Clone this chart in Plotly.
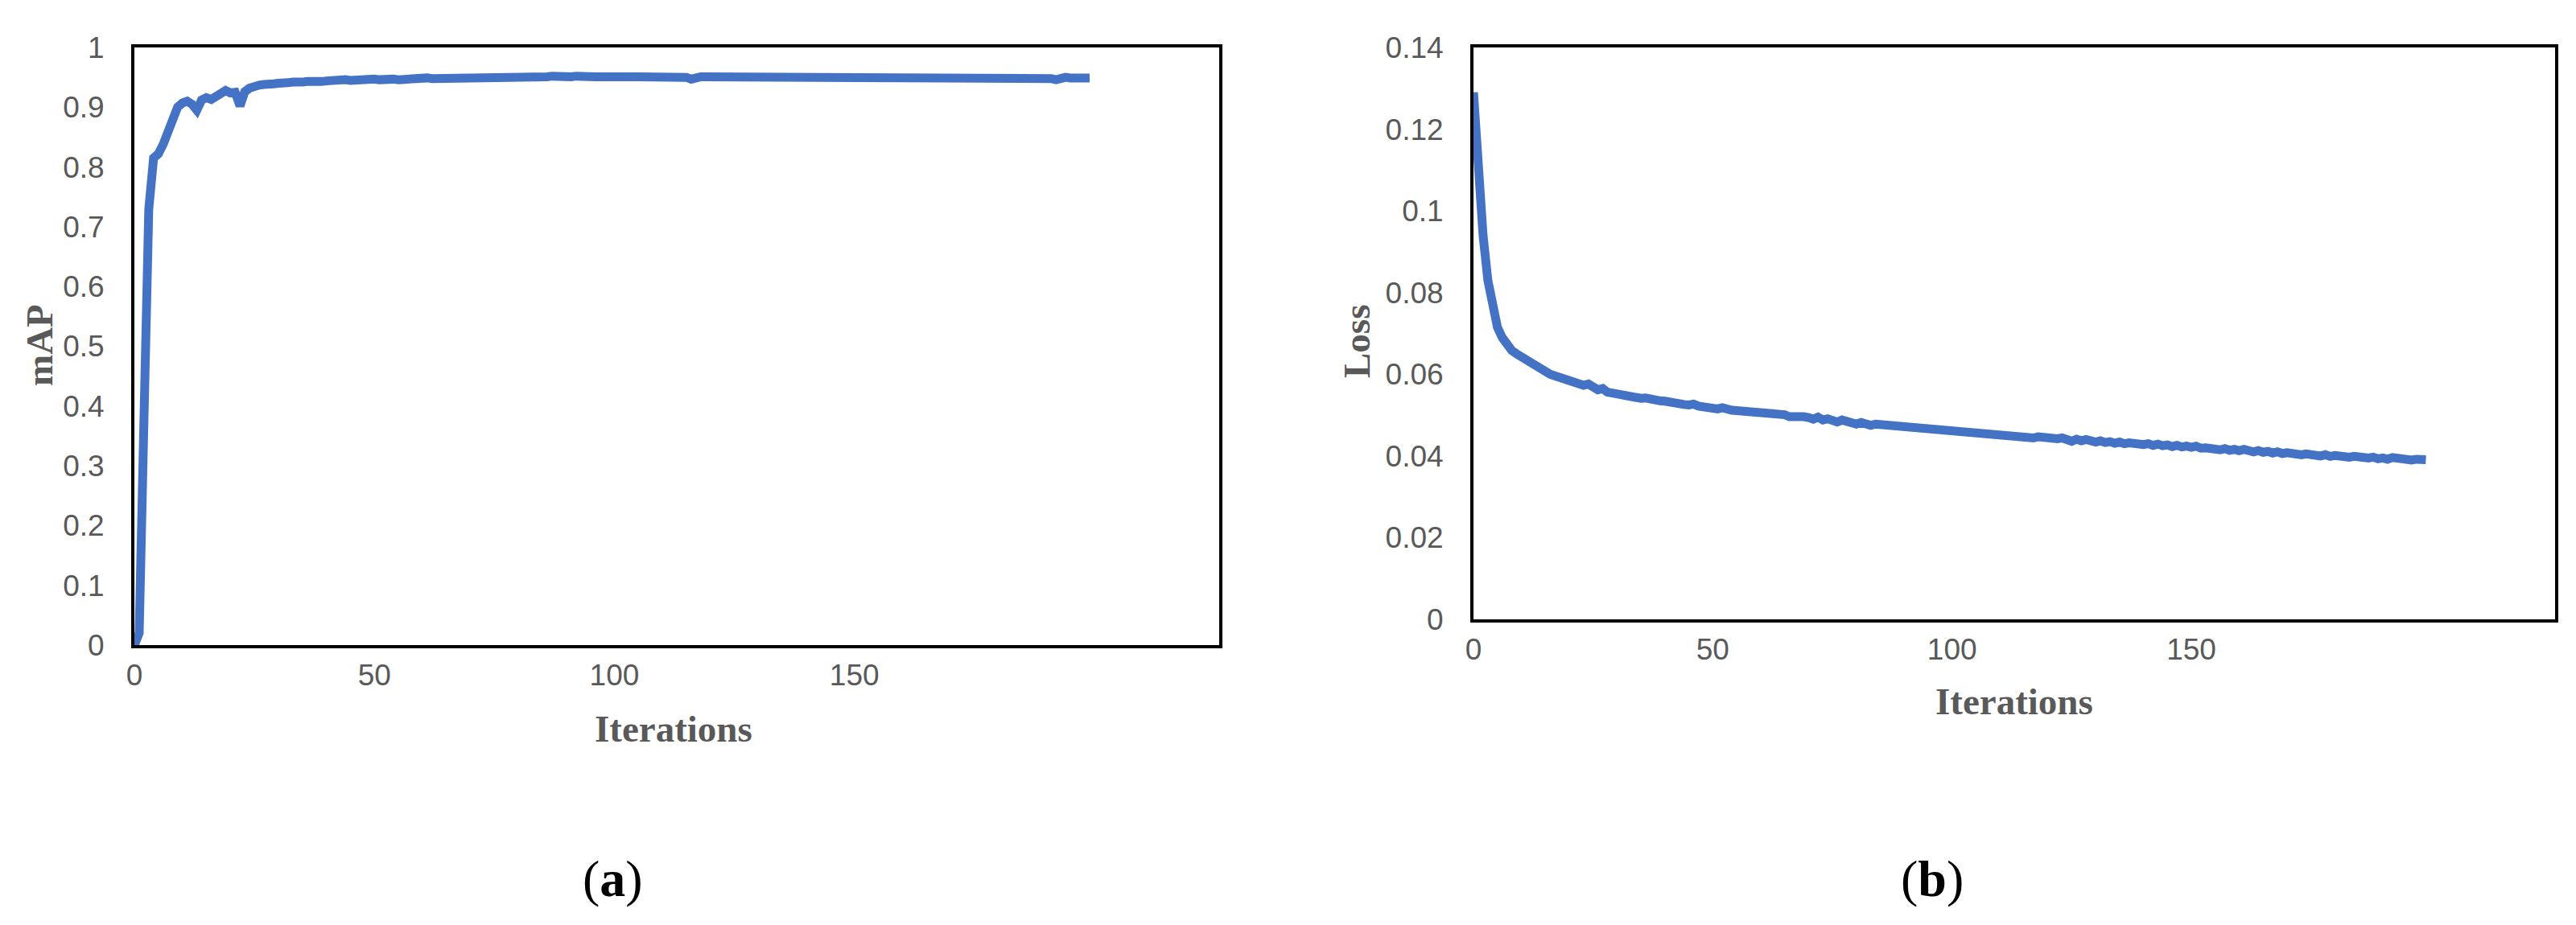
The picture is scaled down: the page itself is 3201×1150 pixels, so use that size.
import plotly.graph_objects as go

W, H = 3201, 1150
OFF = 8  # page body margin offset

# iterations 0..199
iterations = list(range(200))

map_values = [
    0.0, 0.02, 0.38, 0.73, 0.815, 0.822, 0.838, 0.86, 0.885, 0.9,
    0.907, 0.91, 0.905, 0.895, 0.912, 0.916, 0.913, 0.918, 0.922, 0.928,
    0.924, 0.925, 0.902, 0.926, 0.932, 0.936, 0.937, 0.938, 0.937, 0.939,
    0.94, 0.939, 0.941, 0.942, 0.941, 0.942, 0.943, 0.942, 0.944, 0.943,
    0.944, 0.945, 0.944, 0.945, 0.946, 0.945, 0.946, 0.947, 0.946, 0.947,
    0.947, 0.946, 0.947, 0.948, 0.947, 0.946, 0.947, 0.948, 0.948, 0.947,
    0.948, 0.949, 0.948, 0.948, 0.949, 0.948, 0.949, 0.949, 0.95, 0.949,
    0.949, 0.95, 0.95, 0.949, 0.95, 0.95, 0.951, 0.95, 0.95, 0.951,
    0.951, 0.95, 0.951, 0.951, 0.95, 0.951, 0.951, 0.952, 0.951, 0.951,
    0.951, 0.951, 0.952, 0.951, 0.951, 0.951, 0.951, 0.951, 0.952, 0.951,
    0.951, 0.951, 0.952, 0.951, 0.951, 0.951, 0.951, 0.951, 0.951, 0.951,
    0.951, 0.951, 0.951, 0.951, 0.951, 0.95, 0.947, 0.95, 0.951, 0.951,
    0.951, 0.951, 0.951, 0.951, 0.951, 0.951, 0.951, 0.951, 0.951, 0.951,
    0.951, 0.951, 0.951, 0.951, 0.951, 0.951, 0.951, 0.951, 0.951, 0.951,
    0.951, 0.951, 0.951, 0.951, 0.951, 0.951, 0.951, 0.951, 0.951, 0.951,
    0.951, 0.951, 0.951, 0.951, 0.951, 0.951, 0.951, 0.951, 0.951, 0.951,
    0.951, 0.951, 0.951, 0.951, 0.951, 0.951, 0.951, 0.951, 0.951, 0.951,
    0.951, 0.951, 0.951, 0.951, 0.951, 0.951, 0.951, 0.951, 0.951, 0.951,
    0.951, 0.951, 0.951, 0.951, 0.951, 0.951, 0.951, 0.951, 0.951, 0.951,
    0.951, 0.948, 0.946, 0.949, 0.95, 0.949, 0.949, 0.95, 0.949, 0.949,
]

loss_values = [
    0.129, 0.110, 0.094, 0.083, 0.076, 0.0715, 0.069, 0.067, 0.0658, 0.065,
    0.0643, 0.0635, 0.0625, 0.0618, 0.061, 0.0605, 0.06, 0.0596, 0.0592, 0.0588,
    0.0584, 0.058, 0.0577, 0.0573, 0.0576, 0.0566, 0.0562, 0.0565, 0.0556, 0.0554,
    0.0551, 0.0548, 0.0549, 0.0545, 0.0543, 0.0541, 0.0542, 0.0538, 0.0536, 0.0535,
    0.0534, 0.0531, 0.0532, 0.0527, 0.0526, 0.0525, 0.0527, 0.0522, 0.0520, 0.0518,
    0.0517, 0.0515, 0.0518, 0.0513, 0.0512, 0.0511, 0.0510, 0.0512, 0.0507, 0.0506,
    0.0505, 0.0506, 0.0502, 0.0503, 0.0504, 0.0501, 0.0496, 0.0497, 0.0495, 0.0496,
    0.0494, 0.0490, 0.0495, 0.0488, 0.0491, 0.0487, 0.0483, 0.0488, 0.0484, 0.0480,
    0.0478, 0.0482, 0.0479, 0.0475, 0.0478, 0.0477, 0.0473, 0.0475, 0.0471, 0.0474,
    0.0472, 0.0468, 0.0471, 0.0467, 0.0469, 0.0464, 0.0466, 0.0467, 0.0462, 0.0460,
    0.0463, 0.0461, 0.0457, 0.0460, 0.0455, 0.0458, 0.0454, 0.0456, 0.0451, 0.0455,
    0.0452, 0.0449, 0.0451, 0.0448, 0.0446, 0.0449, 0.0447, 0.0444, 0.0447, 0.0445,
    0.0443, 0.0445, 0.0442, 0.0444, 0.0439, 0.0436, 0.0441, 0.0437, 0.0440, 0.0436,
    0.0434, 0.0437, 0.0433, 0.0435, 0.0431, 0.0434, 0.0430, 0.0432, 0.0429, 0.0431,
    0.0428, 0.0430, 0.0426, 0.0429, 0.0425, 0.0427, 0.0423, 0.0426, 0.0422, 0.0424,
    0.0421, 0.0424, 0.0419, 0.0420, 0.0417, 0.0419, 0.0415, 0.0418, 0.0414, 0.0416,
    0.0413, 0.0416, 0.0412, 0.0410, 0.0413, 0.0409, 0.0411, 0.0407, 0.0410, 0.0406,
    0.0408, 0.0405, 0.0407, 0.0403, 0.0405, 0.0402, 0.0404, 0.0400, 0.0403, 0.0399,
    0.0401, 0.0398, 0.0400, 0.0397, 0.0399, 0.0396, 0.0398, 0.0395, 0.0397, 0.0393,
    0.0395, 0.0392, 0.0396, 0.0394, 0.0391, 0.0393, 0.0390, 0.0392, 0.0389, 0.0391,
]

x_ticks = [0, 50, 100, 150]
panel_labels = ["a", "b"]

BLUE = "#4472C4"
GREY = "#595959"
TICK_FONT = dict(family="Liberation Sans, Arial, sans-serif", size=37, color=GREY)
TITLE_FONT = dict(family="Liberation Serif, Times New Roman, serif", size=47, color=GREY)


def px_x(v):
    return (v - OFF) / W


def px_y(v):
    return 1 - (v - OFF) / H


fig = go.Figure()

fig.add_trace(go.Scatter(
    x=iterations, y=map_values, mode="lines",
    line=dict(color=BLUE, width=11), xaxis="x", yaxis="y",
    showlegend=False, hoverinfo="skip",
))
fig.add_trace(go.Scatter(
    x=iterations, y=loss_values, mode="lines",
    line=dict(color=BLUE, width=11), xaxis="x2", yaxis="y2",
    showlegend=False, hoverinfo="skip",
))

axis_common = dict(
    showgrid=False, zeroline=False, showline=True, automargin=False,
    linecolor="black", linewidth=4, mirror=True,
    ticks="", tickfont=TICK_FONT,
)

fig.update_layout(
    width=W, height=H,
    margin=dict(l=0, r=0, t=0, b=0),
    paper_bgcolor="white", plot_bgcolor="white",
    xaxis=dict(domain=[px_x(167), px_x(1515)], range=[0, 226],
               tickvals=x_ticks, anchor="y", ticklabelstandoff=2, **axis_common),
    yaxis=dict(domain=[px_y(802), px_y(59)], range=[0, 1], dtick=0.1,
               anchor="x", ticklabelstandoff=26, **axis_common),
    xaxis2=dict(domain=[px_x(1831), px_x(3175)], range=[0, 226],
                tickvals=x_ticks, anchor="y2", ticklabelstandoff=2, **axis_common),
    yaxis2=dict(domain=[px_y(770), px_y(59)], range=[0, 0.14], dtick=0.02,
                anchor="x2", ticklabelstandoff=26, **axis_common),
)

annotations = [
    dict(text="<b>mAP</b>", x=px_x(49), y=px_y(429), textangle=-90, font=TITLE_FONT),
    dict(text="<b>Iterations</b>", x=px_x(837), y=px_y(906), font=TITLE_FONT),
    dict(text="<b>Loss</b>", x=px_x(1686), y=px_y(425), textangle=-90, font=TITLE_FONT),
    dict(text="<b>Iterations</b>", x=px_x(2503), y=px_y(872), font=TITLE_FONT),
    dict(text="(<b>%s</b>)" % panel_labels[0], x=px_x(761), y=px_y(1092),
         font=dict(family="Liberation Serif, serif", size=64, color="black")),
    dict(text="(<b>%s</b>)" % panel_labels[1], x=px_x(2401), y=px_y(1092),
         font=dict(family="Liberation Serif, serif", size=64, color="black")),
]
for a in annotations:
    a.update(xref="paper", yref="paper", showarrow=False, xanchor="center", yanchor="middle")
fig.update_layout(annotations=annotations)

fig.write_html("out.html")
